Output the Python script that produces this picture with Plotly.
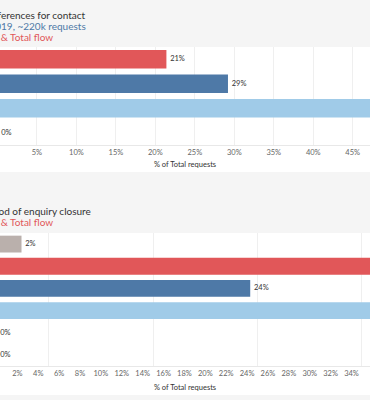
import plotly.graph_objects as go

# ---- data ----
contact_categories = ["Phone", "Email", "Web form", "Other"]
contact_share = [0.214, 0.292, 0.494, 0.0]

closure_categories = ["Other", "Phone", "Email", "Web", "Letter", "In person"]
closure_share = [0.024, 0.372, 0.243, 0.361, 0.0, 0.0]

# ---- style ----
contact_colors = ["#e15759", "#4e79a7", "#a0cbe8", "#bab0ac"]
closure_colors = ["#bab0ac", "#e15759", "#4e79a7", "#a0cbe8", "#bab0ac", "#bab0ac"]
FONT = "Lato"
W, H = 370, 400
GRID = "#efefef"
LABEL_FONT = dict(family=FONT, size=7.5, color="#333333")


def py(px):
    return 1 - px / H


def pxx(px):
    return px / W


fig = go.Figure()
for cats, vals, cols, xa, ya in [
    (contact_categories, contact_share, contact_colors, "x", "y"),
    (closure_categories, closure_share, closure_colors, "x2", "y2"),
]:
    fig.add_trace(go.Bar(
        x=vals, y=cats, orientation="h",
        marker=dict(color=cols, line=dict(width=0)),
        xaxis=xa, yaxis=ya, showlegend=False, hoverinfo="skip",
    ))
    fig.add_trace(go.Scatter(
        x=vals, y=cats, mode="text",
        text=[f"\u2002{v:.0%}" for v in vals], textposition="middle right",
        textfont=LABEL_FONT, cliponaxis=True,
        xaxis=xa, yaxis=ya, showlegend=False, hoverinfo="skip",
    ))

axis_common = dict(
    tickformat=".0%", ticks="", showline=True, linecolor="#e8e8e8", linewidth=1,
    zeroline=False, tickfont=dict(family=FONT, size=7.5, color="#666666"),
    fixedrange=True, automargin=False,
)

fig.update_layout(
    width=W, height=H,
    margin=dict(l=0, r=0, t=0, b=0, autoexpand=False),
    paper_bgcolor="#f5f5f5", plot_bgcolor="white",
    bargap=0.24,
    xaxis=dict(
        axis_common, domain=[0, 1], anchor="y",
        range=[0.0032, 0.4719], dtick=0.05, tick0=0,
        showgrid=True, gridcolor=GRID,
        title=dict(text="% of Total requests", standoff=5,
                   font=dict(family=FONT, size=7.5, color="#333333")),
    ),
    yaxis=dict(
        domain=[py(145), py(47)], anchor="x", autorange="reversed",
        showticklabels=False, showgrid=False, zeroline=False, fixedrange=True,
    ),
    xaxis2=dict(
        axis_common, domain=[0, 1], anchor="y2",
        range=[0.0034, 0.3577], dtick=0.02, tick0=0,
        showgrid=False,
        minor=dict(dtick=0.05, tick0=0, showgrid=True, gridcolor=GRID, ticks=""),
        title=dict(text="% of Total requests", standoff=7,
                   font=dict(family=FONT, size=7.5, color="#333333")),
    ),
    yaxis2=dict(
        domain=[py(366), py(233)], anchor="x2", autorange="reversed",
        showticklabels=False, showgrid=False, zeroline=False, fixedrange=True,
    ),
    shapes=[
        dict(type="rect", xref="paper", yref="paper", x0=0, x1=1,
             y0=py(172), y1=py(47), fillcolor="white", line=dict(width=0),
             layer="below"),
        dict(type="rect", xref="paper", yref="paper", x0=0, x1=1,
             y0=py(395), y1=py(233), fillcolor="white", line=dict(width=0),
             layer="below"),
    ],
)

title_font = dict(family=FONT, size=10)
annots = [
    ("Preferences for contact", 88, 15, "#333333"),
    ("Calendar year 2019, ~220k requests", 88, 26, "#4e79a7"),
    ("Phone & Total flow", 55, 36.5, "#e15759"),
    ("Method of enquiry closure", 93, 210.5, "#333333"),
    ("Phone & Total flow", 55, 221.5, "#e15759"),
]
for text, xr, yc, col in annots:
    fig.add_annotation(
        text=text, xref="paper", yref="paper", x=pxx(xr), y=py(yc),
        xanchor="right", yanchor="middle", showarrow=False,
        font=dict(title_font, color=col),
    )

fig.write_html(
    "out.html",
    config={"displayModeBar": False},
    post_script="document.body.style.margin='0';document.body.style.padding='0';",
)
